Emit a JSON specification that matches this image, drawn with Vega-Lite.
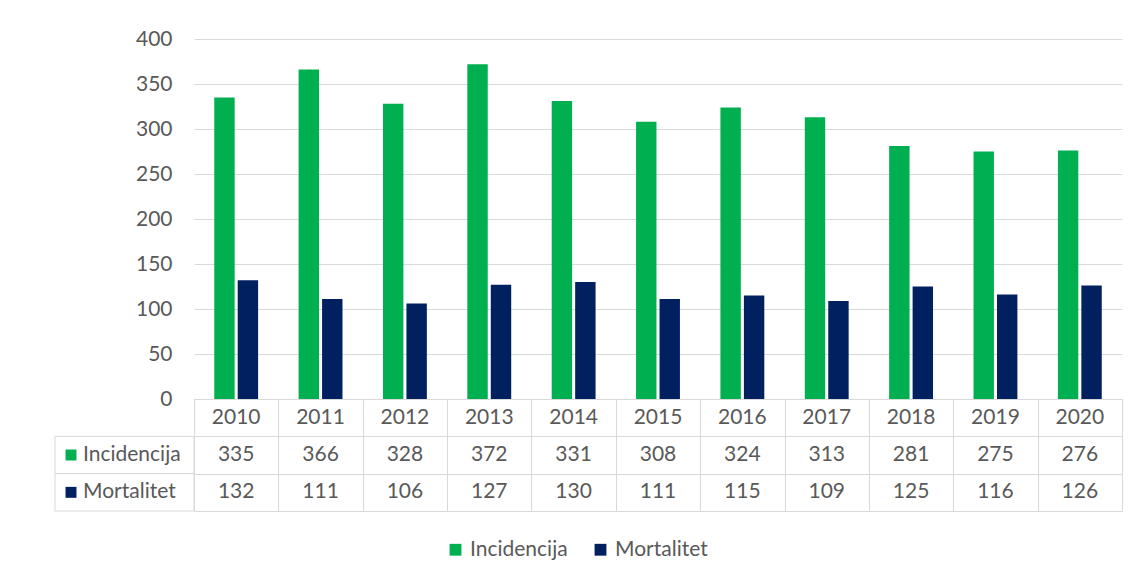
{
  "$schema": "https://vega.github.io/schema/vega-lite/v6.json",
  "background": "white",
  "padding": {"left": 54, "top": 28, "right": 0, "bottom": 0},
  "config": {
    "view": {"stroke": null},
    "font": "Lato",
    "axis": {"labelFont": "Lato"},
    "legend": {"labelFont": "Lato"},
    "text": {"font": "Lato"}
  },
  "datasets": {
    "d": [
      {"year": "2010", "series": "Incidencija", "value": 335},
      {"year": "2011", "series": "Incidencija", "value": 366},
      {"year": "2012", "series": "Incidencija", "value": 328},
      {"year": "2013", "series": "Incidencija", "value": 372},
      {"year": "2014", "series": "Incidencija", "value": 331},
      {"year": "2015", "series": "Incidencija", "value": 308},
      {"year": "2016", "series": "Incidencija", "value": 324},
      {"year": "2017", "series": "Incidencija", "value": 313},
      {"year": "2018", "series": "Incidencija", "value": 281},
      {"year": "2019", "series": "Incidencija", "value": 275},
      {"year": "2020", "series": "Incidencija", "value": 276},
      {"year": "2010", "series": "Mortalitet", "value": 132},
      {"year": "2011", "series": "Mortalitet", "value": 111},
      {"year": "2012", "series": "Mortalitet", "value": 106},
      {"year": "2013", "series": "Mortalitet", "value": 127},
      {"year": "2014", "series": "Mortalitet", "value": 130},
      {"year": "2015", "series": "Mortalitet", "value": 111},
      {"year": "2016", "series": "Mortalitet", "value": 115},
      {"year": "2017", "series": "Mortalitet", "value": 109},
      {"year": "2018", "series": "Mortalitet", "value": 125},
      {"year": "2019", "series": "Mortalitet", "value": 116},
      {"year": "2020", "series": "Mortalitet", "value": 126}
    ],
    "s": [{"series": "Incidencija"}, {"series": "Mortalitet"}]
  },
  "columns": 2,
  "spacing": 0,
  "bounds": "flush",
  "concat": [
    {
      "width": 139,
      "height": 360,
      "data": {"values": []},
      "mark": "point",
      "encoding": {}
    },
    {
      "width": 928,
      "height": 360,
      "data": {"name": "d"},
      "mark": {"type": "bar"},
      "encoding": {
        "x": {"field": "year", "type": "nominal", "scale": {"paddingInner": 0.48, "paddingOuter": 0.24}, "axis": null},
        "xOffset": {"field": "series", "type": "nominal", "scale": {"paddingInner": 0.13}},
        "y": {
          "field": "value", "type": "quantitative",
          "scale": {"domain": [0, 400]},
          "axis": {
            "values": [0, 50, 100, 150, 200, 250, 300, 350, 400],
            "title": null, "ticks": false, "domain": false,
            "labelPadding": 22, "labelFontSize": 21, "labelColor": "#595959",
            "gridColor": "#d9d9d9"
          }
        },
        "color": {
          "field": "series", "type": "nominal",
          "scale": {"domain": ["Incidencija", "Mortalitet"], "range": ["#00B050", "#002060"]},
          "legend": {
            "orient": "none", "legendX": 390, "legendY": 500,
            "direction": "horizontal", "title": null,
            "symbolType": "square", "symbolSize": 140, "symbolStrokeWidth": 0,
            "labelFontSize": 21, "labelColor": "#595959", "columnPadding": 22
          }
        }
      }
    },
    {
      "width": 139,
      "height": 112,
      "data": {"name": "s"},
      "encoding": {
        "y": {
          "field": "series", "type": "nominal",
          "scale": {"domain": ["Godina", "Incidencija", "Mortalitet"], "paddingInner": 0, "paddingOuter": 0},
          "axis": null
        }
      },
      "layer": [
        {"mark": {"type": "rect", "fill": "white", "stroke": "#d9d9d9", "strokeWidth": 1}},
        {
          "mark": {"type": "point", "shape": "square", "filled": true, "size": 120, "xOffset": -53.5, "opacity": 1},
          "encoding": {"color": {"field": "series", "type": "nominal", "legend": null}}
        },
        {
          "mark": {"type": "text", "align": "left", "dx": -41.5, "fontSize": 21, "color": "#595959"},
          "encoding": {"text": {"field": "series"}}
        }
      ]
    },
    {
      "width": 928,
      "height": 112,
      "data": {"name": "d"},
      "view": {"stroke": "#d9d9d9"},
      "encoding": {
        "x": {
          "field": "year", "type": "nominal",
          "scale": {"paddingInner": 0, "paddingOuter": 0},
          "axis": {"title": null, "labels": false, "ticks": false, "domain": false, "grid": true, "tickBand": "extent", "gridColor": "#d9d9d9"}
        }
      },
      "layer": [
        {
          "mark": {"type": "text", "fontSize": 21, "color": "#595959"},
          "encoding": {
            "y": {
              "field": "series", "type": "nominal",
              "scale": {"domain": ["Godina", "Incidencija", "Mortalitet"], "paddingInner": 0, "paddingOuter": 0},
              "axis": {"title": null, "labels": false, "ticks": false, "domain": false, "grid": true, "tickBand": "extent", "gridColor": "#d9d9d9"}
            },
            "text": {"field": "value"}
          }
        },
        {
          "transform": [{"filter": "datum.series === 'Incidencija'"}],
          "mark": {"type": "text", "fontSize": 21, "color": "#595959"},
          "encoding": {
            "y": {"datum": "Godina", "type": "nominal"},
            "text": {"field": "year"}
          }
        }
      ]
    }
  ]
}
